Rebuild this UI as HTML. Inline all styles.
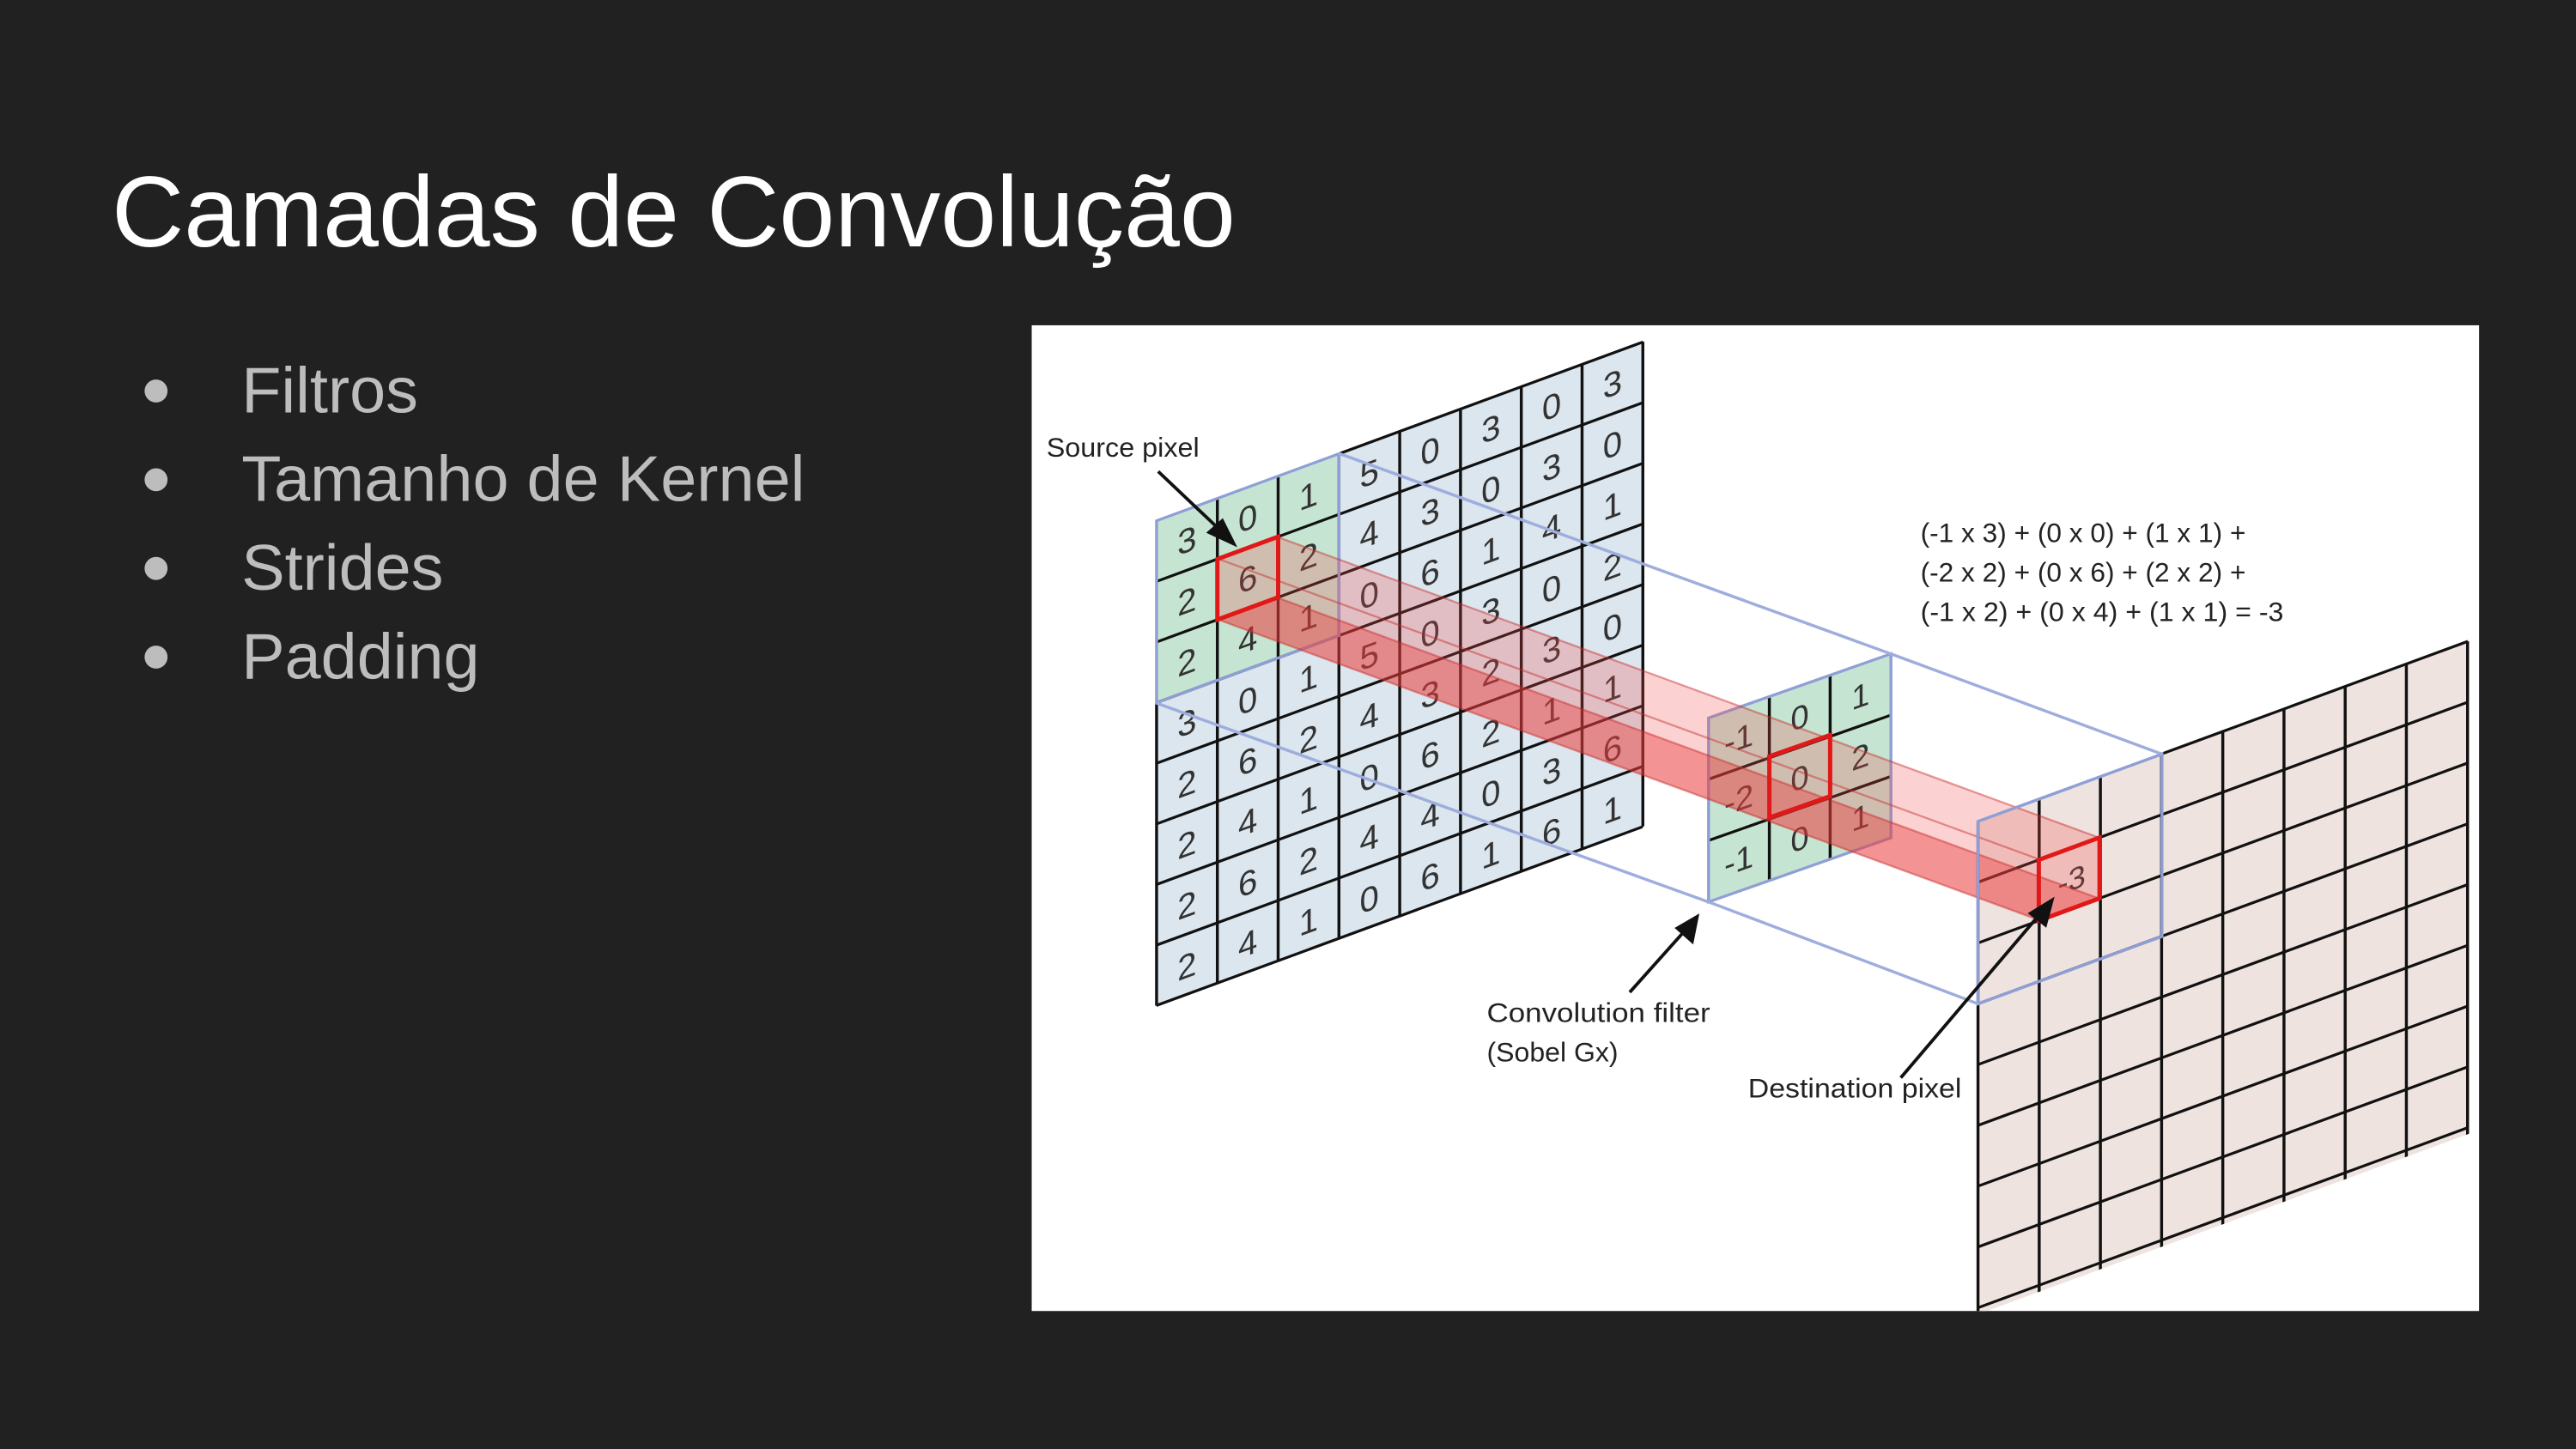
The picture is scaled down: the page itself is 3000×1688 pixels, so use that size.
<!DOCTYPE html>
<html><head><meta charset="utf-8"><style>html,body{margin:0;padding:0;background:#212121;}svg{display:block}</style></head>
<body>
<svg width="3000" height="1688" viewBox="0 0 1568 882" preserveAspectRatio="none" xmlns="http://www.w3.org/2000/svg" font-family="Liberation Sans, sans-serif">
<rect width="1568" height="882" fill="#212121"/>
<text x="68" y="150" font-size="61" fill="#ffffff" textLength="684" lengthAdjust="spacingAndGlyphs">Camadas de Convolução</text>
<g font-size="39.5" fill="#bdbdbd">
<circle cx="95" cy="238" r="7" fill="#bdbdbd"/><text x="147" y="251">Filtros</text>
<circle cx="95" cy="292" r="7" fill="#bdbdbd"/><text x="147" y="305" textLength="343" lengthAdjust="spacingAndGlyphs">Tamanho de Kernel</text>
<circle cx="95" cy="346" r="7" fill="#bdbdbd"/><text x="147" y="359">Strides</text>
<circle cx="95" cy="400" r="7" fill="#bdbdbd"/><text x="147" y="413">Padding</text>
</g>
<rect x="628" y="198" width="881" height="600" fill="#ffffff"/>
<defs><clipPath id="ic"><rect x="628" y="198" width="881" height="600"/></clipPath></defs>
<g clip-path="url(#ic)">
<g transform="matrix(1,-0.3676,0,1,1204,500)">
<rect x="0" y="0" width="298" height="300" fill="#efe3e0"/>
<g stroke="#111" stroke-width="1.8">
<line x1="0" y1="0" x2="0" y2="300"/><line x1="37.25" y1="0" x2="37.25" y2="300"/><line x1="74.5" y1="0" x2="74.5" y2="300"/><line x1="111.75" y1="0" x2="111.75" y2="300"/><line x1="149" y1="0" x2="149" y2="300"/><line x1="186.25" y1="0" x2="186.25" y2="300"/><line x1="223.5" y1="0" x2="223.5" y2="300"/><line x1="260.75" y1="0" x2="260.75" y2="300"/><line x1="298" y1="0" x2="298" y2="300"/>
<line x1="0" y1="37" x2="298" y2="37"/><line x1="0" y1="74" x2="298" y2="74"/><line x1="0" y1="111" x2="298" y2="111"/><line x1="0" y1="148" x2="298" y2="148"/><line x1="0" y1="185" x2="298" y2="185"/><line x1="0" y1="222" x2="298" y2="222"/><line x1="0" y1="259" x2="298" y2="259"/><line x1="0" y1="296" x2="298" y2="296"/>
<line x1="111.75" y1="0" x2="298" y2="0"/>
</g>
<text x="57" y="63" font-size="19" fill="#333" text-anchor="middle">-3</text>
</g>
<g transform="matrix(1,-0.3676,0,1,704,317)" font-size="21" fill="#333" text-anchor="middle">
<rect x="0" y="0" width="296" height="295" fill="#dbe6ee"/>
<rect x="0" y="0" width="111" height="110.7" fill="#c5e5d2"/>
<g stroke="#111" stroke-width="1.8">
<line x1="0" y1="110.7" x2="0" y2="295"/><line x1="37" y1="0" x2="37" y2="295"/><line x1="74" y1="0" x2="74" y2="295"/><line x1="111" y1="0" x2="111" y2="295"/><line x1="148" y1="0" x2="148" y2="295"/><line x1="185" y1="0" x2="185" y2="295"/><line x1="222" y1="0" x2="222" y2="295"/><line x1="259" y1="0" x2="259" y2="295"/><line x1="296" y1="0" x2="296" y2="295"/>
<line x1="0" y1="36.9" x2="296" y2="36.9"/><line x1="0" y1="73.8" x2="296" y2="73.8"/><line x1="0" y1="110.7" x2="296" y2="110.7"/><line x1="0" y1="147.6" x2="296" y2="147.6"/><line x1="0" y1="184.5" x2="296" y2="184.5"/><line x1="0" y1="221.4" x2="296" y2="221.4"/><line x1="0" y1="258.3" x2="296" y2="258.3"/><line x1="0" y1="295" x2="296" y2="295"/>
<line x1="111" y1="0" x2="296" y2="0"/>
</g>
<g stroke="#8f9fd6" stroke-width="1.8" fill="none"><rect x="0" y="0" width="111" height="110.7"/></g>
<text x="18.5" y="26">3</text><text x="55.5" y="26">0</text><text x="92.5" y="26">1</text><text x="129.5" y="26">5</text><text x="166.5" y="26">0</text><text x="203.5" y="26">3</text><text x="240.5" y="26">0</text><text x="277.5" y="26">3</text>
<text x="18.5" y="63">2</text><text x="55.5" y="63">6</text><text x="92.5" y="63">2</text><text x="129.5" y="63">4</text><text x="166.5" y="63">3</text><text x="203.5" y="63">0</text><text x="240.5" y="63">3</text><text x="277.5" y="63">0</text>
<text x="18.5" y="100">2</text><text x="55.5" y="100">4</text><text x="92.5" y="100">1</text><text x="129.5" y="100">0</text><text x="166.5" y="100">6</text><text x="203.5" y="100">1</text><text x="240.5" y="100">4</text><text x="277.5" y="100">1</text>
<text x="18.5" y="137">3</text><text x="55.5" y="137">0</text><text x="92.5" y="137">1</text><text x="129.5" y="137">5</text><text x="166.5" y="137">0</text><text x="203.5" y="137">3</text><text x="240.5" y="137">0</text><text x="277.5" y="137">2</text>
<text x="18.5" y="174">2</text><text x="55.5" y="174">6</text><text x="92.5" y="174">2</text><text x="129.5" y="174">4</text><text x="166.5" y="174">3</text><text x="203.5" y="174">2</text><text x="240.5" y="174">3</text><text x="277.5" y="174">0</text>
<text x="18.5" y="211">2</text><text x="55.5" y="211">4</text><text x="92.5" y="211">1</text><text x="129.5" y="211">0</text><text x="166.5" y="211">6</text><text x="203.5" y="211">2</text><text x="240.5" y="211">1</text><text x="277.5" y="211">1</text>
<text x="18.5" y="248">2</text><text x="55.5" y="248">6</text><text x="92.5" y="248">2</text><text x="129.5" y="248">4</text><text x="166.5" y="248">4</text><text x="203.5" y="248">0</text><text x="240.5" y="248">3</text><text x="277.5" y="248">6</text>
<text x="18.5" y="285">2</text><text x="55.5" y="285">4</text><text x="92.5" y="285">1</text><text x="129.5" y="285">0</text><text x="166.5" y="285">6</text><text x="203.5" y="285">1</text><text x="240.5" y="285">6</text><text x="277.5" y="285">1</text>
</g>
<g transform="matrix(1,-0.3514,0,1,1040,437)" font-size="20" fill="#333" text-anchor="middle">
<rect x="0" y="0" width="111" height="112" fill="#c5e5d2"/>
<g stroke="#111" stroke-width="1.8">
<line x1="37" y1="0" x2="37" y2="112"/><line x1="74" y1="0" x2="74" y2="112"/>
<line x1="0" y1="37.3" x2="111" y2="37.3"/><line x1="0" y1="74.6" x2="111" y2="74.6"/>
</g>
<rect x="0" y="0" width="111" height="112" fill="none" stroke="#8f9fd6" stroke-width="1.8"/>
<text x="18.5" y="26">-1</text><text x="55.5" y="26">0</text><text x="92.5" y="26">1</text>
<text x="18.5" y="63">-2</text><text x="55.5" y="63">0</text><text x="92.5" y="63">2</text>
<text x="18.5" y="100">-1</text><text x="55.5" y="100">0</text><text x="92.5" y="100">1</text>
</g>
<polygon points="741,340 778,327 1278,510 1278,547 1241,560 741,377" fill="rgba(238,70,70,0.25)"/>
<polygon points="741,377 778,364 1278,547 1241,560" fill="rgba(232,55,55,0.4)"/>
<g stroke="rgba(200,40,40,0.45)" stroke-width="1.2">
<line x1="741" y1="340" x2="1241" y2="523"/><line x1="778" y1="327" x2="1278" y2="510"/><line x1="778" y1="364" x2="1278" y2="547"/><line x1="741" y1="377" x2="1241" y2="560"/>
</g>
<polygon points="1204,500 1316,459 1316,570 1204,611" fill="none" stroke="#8f9fd6" stroke-width="1.8"/>
<g stroke="#9fadde" stroke-width="1.8" fill="none">
<line x1="815" y1="276" x2="1151" y2="398"/><line x1="1151" y1="398" x2="1316" y2="459"/>
<line x1="704" y1="428" x2="1040" y2="549"/><line x1="1040" y1="549" x2="1204" y2="611"/>
</g>
<g stroke="#e01818" stroke-width="2.6" fill="none">
<polygon points="741,340.3 778,326.7 778,363.6 741,377.2"/>
<polygon points="1077,460.4 1114,447.4 1114,484.7 1077,497.7"/>
<polygon points="1241,523.4 1278,509.8 1278,546.8 1241,560.4"/>
</g>
<g stroke="#111" stroke-width="2" fill="#111">
<line x1="705" y1="287" x2="743" y2="323"/><polygon points="751,331 736,324 744,317"/>
<line x1="992" y1="604" x2="1026" y2="566"/><polygon points="1033,558 1030,573 1021,565"/>
<line x1="1157" y1="656" x2="1242" y2="556"/><polygon points="1249,548 1245,563 1236,556"/>
</g>
<g font-size="16.5" fill="#222">
<text x="637" y="278" textLength="93" lengthAdjust="spacingAndGlyphs">Source pixel</text>
<text x="905" y="622" textLength="136" lengthAdjust="spacingAndGlyphs">Convolution filter</text>
<text x="905" y="646" textLength="80" lengthAdjust="spacingAndGlyphs">(Sobel Gx)</text>
<text x="1064" y="668" textLength="130" lengthAdjust="spacingAndGlyphs">Destination pixel</text>
<text x="1169" y="330" textLength="198" lengthAdjust="spacingAndGlyphs">(-1 x 3) + (0 x 0) + (1 x 1) +</text>
<text x="1169" y="354" textLength="198" lengthAdjust="spacingAndGlyphs">(-2 x 2) + (0 x 6) + (2 x 2) +</text>
<text x="1169" y="378" textLength="221" lengthAdjust="spacingAndGlyphs">(-1 x 2) + (0 x 4) + (1 x 1)  = -3</text>
</g>
</g>
</svg>
</body></html>
